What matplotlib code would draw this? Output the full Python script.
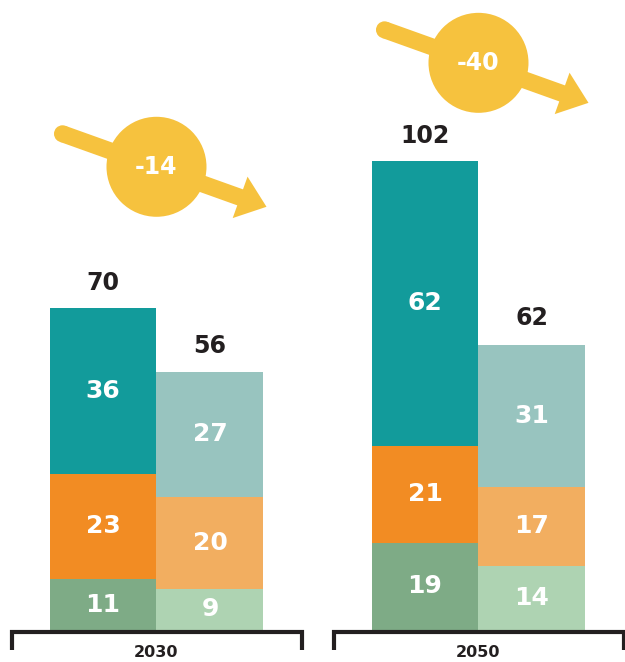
import numpy as np
import matplotlib.pyplot as plt
from matplotlib.patches import Circle, FancyArrow

anos = ["2030", "2050"]

# barra izquierda (oscura), de abajo hacia arriba
verde_a = [11, 19]
naranja_a = [23, 21]
teal_a = [36, 62]

# barra derecha (clara), de abajo hacia arriba
verde_b = [9, 14]
naranja_b = [20, 17]
teal_b = [27, 31]

colores_a = ["#7eab86", "#f28c23", "#129b9b"]
colores_b = ["#aed3b2", "#f2ae60", "#98c4bf"]
amarillo = "#f6c23e"
negro = "#231f20"

plt.rcParams['font.family'] = ['DejaVu Sans']

fig = plt.figure(figsize=(6.25, 6.62), dpi=100)
ax = fig.add_axes([0, 0, 1, 1])
ax.set_xlim(-0.486, 1.455)
ax.set_ylim(-6.96, 136.96)
ax.axis("off")

x = np.arange(len(anos))
ancho = 0.332


def apilar(xpos, series, colores):
    base = np.zeros(len(anos))
    for valores, color in zip(series, colores):
        valores = np.array(valores, dtype=float)
        ax.bar(xpos, valores, ancho, bottom=base, color=color, linewidth=0)
        for xi, b, v in zip(xpos, base, valores):
            ax.text(xi, b + v / 2, str(int(v)), ha="center", va="center",
                    color="white", fontsize=18, fontweight="bold")
        base = base + valores
    return base


total_a = apilar(x - ancho / 2, [verde_a, naranja_a, teal_a], colores_a)
total_b = apilar(x + ancho / 2, [verde_b, naranja_b, teal_b], colores_b)

for xi, t in zip(x - ancho / 2, total_a):
    ax.annotate(str(int(t)), (xi, t), xytext=(0, 18), textcoords="offset points",
                ha="center", va="center", fontsize=17, fontweight="bold", color=negro)
for xi, t in zip(x + ancho / 2, total_b):
    ax.annotate(str(int(t)), (xi, t), xytext=(0, 19), textcoords="offset points",
                ha="center", va="center", fontsize=17, fontweight="bold", color=negro)

# corchetes y etiquetas de año
for xi, ano in zip(x, anos):
    ax.plot([xi - 0.448, xi - 0.448, xi + 0.452, xi + 0.452],
            [-4.3, -0.45, -0.45, -4.3], color=negro, lw=3,
            solid_joinstyle="miter", solid_capstyle="butt")
    ax.text(xi, -4.9, ano, ha="center", va="center", fontsize=11.5,
            fontweight="bold", color=negro)

# circulos con la diferencia
diferencia = total_b - total_a
circulo_y = [100.7, 123.3]

deco = fig.add_axes([0, 0, 1, 1], zorder=3)
deco.set_xlim(0, 625)
deco.set_ylim(0, 662)
deco.axis("off")
deco.patch.set_alpha(0)

fig.canvas.draw()
for xi, cy, d in zip(x, circulo_y, diferencia):
    cx, cyp = ax.transData.transform((xi, cy))
    sx, sy = cx - 94, cyp + 33
    tx, ty = cx + 110, cyp - 40
    deco.add_patch(Circle((sx, sy), 8.5, color=amarillo, lw=0))
    deco.add_patch(FancyArrow(sx, sy, tx - sx, ty - sy, width=17, head_width=44,
                              head_length=28, length_includes_head=True,
                              color=amarillo, lw=0))
    deco.add_patch(Circle((cx, cyp), 50, color=amarillo, lw=0))
    deco.text(cx, cyp, str(int(d)), ha="center", va="center", fontsize=17,
              fontweight="bold", color="white")

fig.savefig("out.png", dpi=100)
